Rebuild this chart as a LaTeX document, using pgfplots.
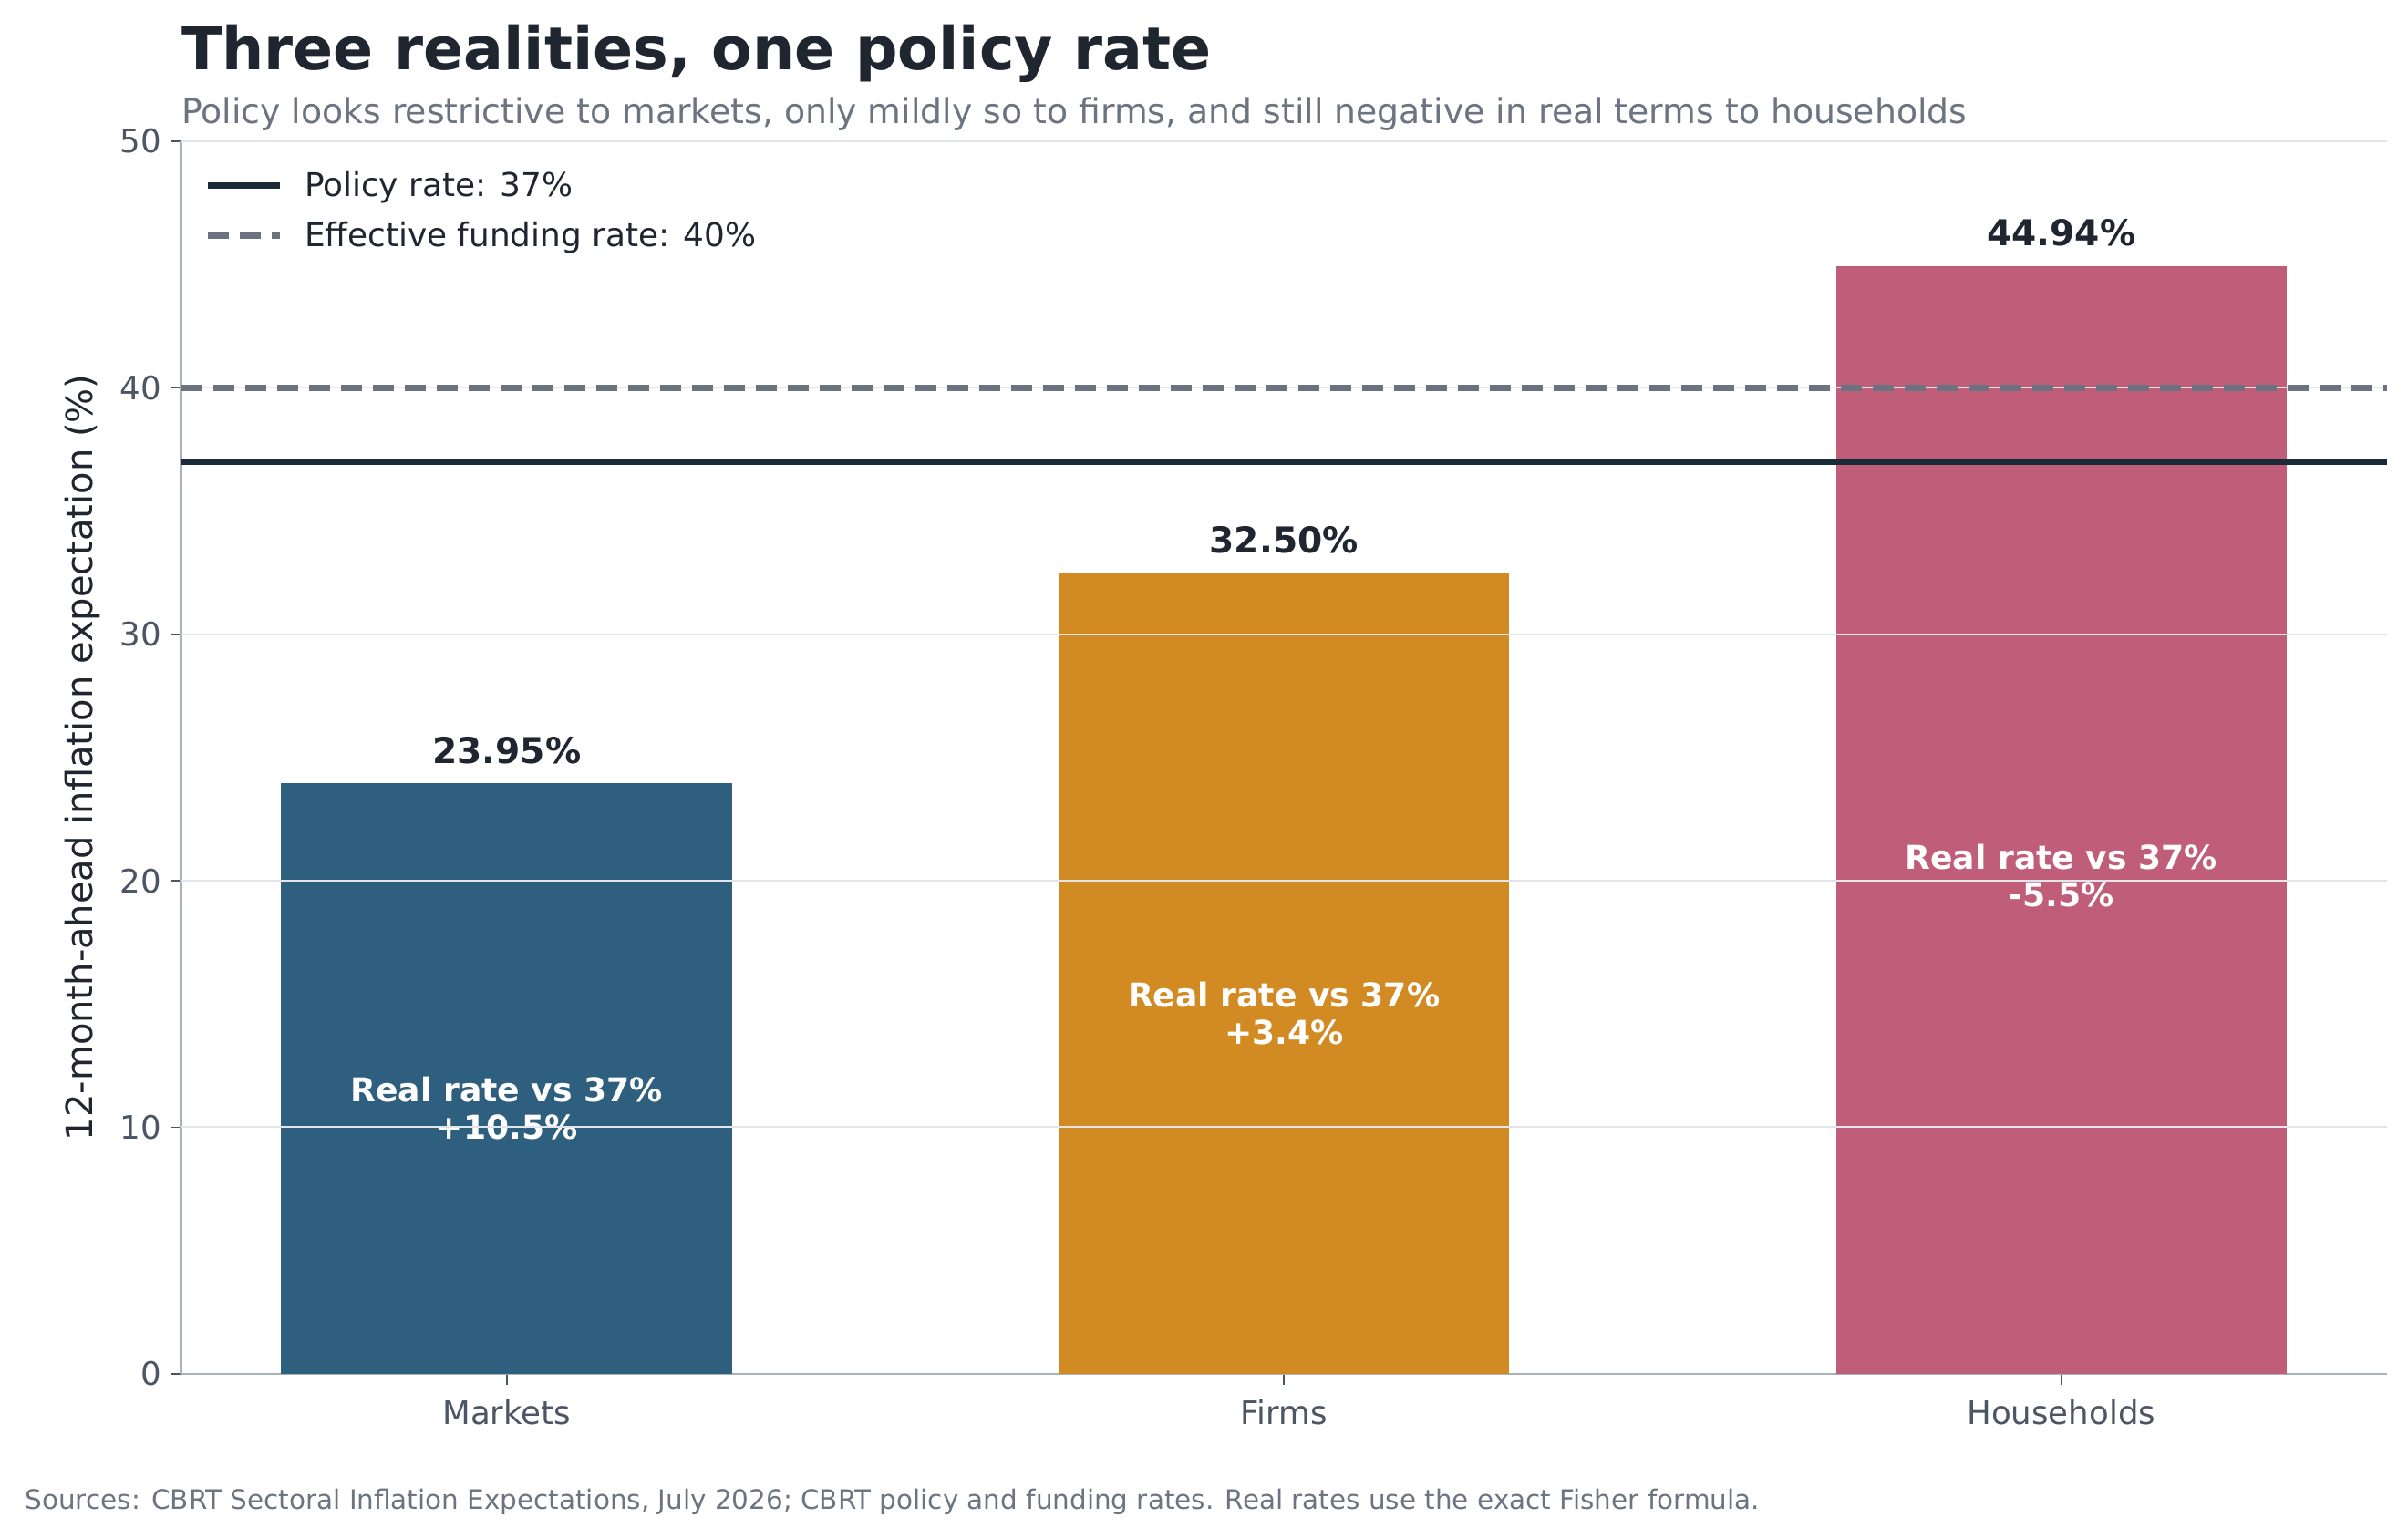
\documentclass[border=0pt]{standalone}
\usepackage{fontspec}
\setmainfont{DejaVu Sans}
\usepackage{pgfplots}
\pgfplotsset{compat=1.18}
\definecolor{textdark}{HTML}{1F2630}
\definecolor{subgray}{HTML}{6B7480}
\definecolor{tickgray}{HTML}{4B5563}
\definecolor{spine}{HTML}{A9B1B9}
\definecolor{gridc}{HTML}{E2E5E9}
\definecolor{policy}{HTML}{1B2A38}
\definecolor{funding}{HTML}{6B7280}
\definecolor{cmarkets}{HTML}{2E5F7F}
\definecolor{cfirms}{HTML}{D28A22}
\definecolor{chouse}{HTML}{C05D79}
\begin{document}
\begin{tikzpicture}
\path[use as bounding box] (0,0) rectangle (950.76pt,607.32pt);
\node[anchor=base west, inner sep=0pt, text=textdark, font=\fontsize{23.4}{28}\selectfont\bfseries] at (71.5pt,579.6pt) {Three realities, one policy rate};
\node[anchor=base west, inner sep=0pt, text=subgray, font=\fontsize{13.6}{16}\selectfont] at (71.5pt,558.7pt) {Policy looks restrictive to markets, only mildly so to firms, and still negative in real terms to households};
\node[anchor=base west, inner sep=0pt, text=subgray, font=\fontsize{10.6}{12}\selectfont] at (9.7pt,11.5pt) {Sources: CBRT Sectoral Inflation Expectations, July 2026; CBRT policy and funding rates. Real rates use the exact Fisher formula.};
\begin{axis}[
  at={(71.46pt,64.84pt)}, anchor=south west,
  scale only axis, width=871.0pt, height=486.72pt,
  xmin=-0.419, xmax=2.419, ymin=0, ymax=50,
  axis x line*=bottom, axis y line*=left,
  axis line style={draw=spine, line width=0.9pt, -},
  xtick={0,1,2}, xticklabels={Markets,Firms,Households},
  ytick={0,10,20,30,40,50},
  tick align=outside,
  major tick length=4.3pt,
  tick style={draw=tickgray, line width=0.7pt},
  ticklabel style={text=tickgray, font=\fontsize{12.8}{15}\selectfont},
  xticklabel style={yshift=-2.4pt},
  /pgf/number format/assume math mode=true,
  ylabel={12-month-ahead inflation expectation (\%)},
  every axis y label/.style={at={(axis description cs:0,0.5)}, xshift=-39pt, rotate=90, anchor=center, text=textdark, font=\fontsize{14.4}{17}\selectfont},
  legend cell align=left,
  legend style={at={(axis description cs:0,1)}, anchor=north west, xshift=6pt, yshift=-7.8pt, draw=none, fill=none, text=textdark, font=\fontsize{12.9}{15}\selectfont, row sep=4.5pt,
    nodes={inner xsep=8.5pt}},
  legend image code/.code={\draw[#1] (-5.5pt,0pt) -- (23.1pt,0pt);},
  clip=false,
]
\addplot[ybar, bar width=0.58, bar shift=0pt, fill=cmarkets, draw=none, forget plot] coordinates {(0,23.95)};
\addplot[ybar, bar width=0.58, bar shift=0pt, fill=cfirms, draw=none, forget plot] coordinates {(1,32.50)};
\addplot[ybar, bar width=0.58, bar shift=0pt, fill=chouse, draw=none, forget plot] coordinates {(2,44.94)};
\node[align=center, text=white, font=\fontsize{13}{14.8}\selectfont\bfseries] at (axis cs:0,10.78) {Real rate vs 37\%\\+10.5\%};
\node[align=center, text=white, font=\fontsize{13}{14.8}\selectfont\bfseries] at (axis cs:1,14.63) {Real rate vs 37\%\\+3.4\%};
\node[align=center, text=white, font=\fontsize{13}{14.8}\selectfont\bfseries] at (axis cs:2,20.22) {Real rate vs 37\%\\-5.5\%};
\draw[gridc, line width=0.72pt] (axis cs:-0.419,10) -- (axis cs:2.419,10);
\draw[gridc, line width=0.72pt] (axis cs:-0.419,20) -- (axis cs:2.419,20);
\draw[gridc, line width=0.72pt] (axis cs:-0.419,30) -- (axis cs:2.419,30);
\draw[gridc, line width=0.72pt] (axis cs:-0.419,40) -- (axis cs:2.419,40);
\draw[gridc, line width=0.72pt] (axis cs:-0.419,50) -- (axis cs:2.419,50);
\node[anchor=base, text=textdark, font=\fontsize{14.1}{17}\selectfont\bfseries] at (axis cs:0,23.95) [yshift=7.9pt] {23.95\%};
\node[anchor=base, text=textdark, font=\fontsize{14.1}{17}\selectfont\bfseries] at (axis cs:1,32.50) [yshift=7.9pt] {32.50\%};
\node[anchor=base, text=textdark, font=\fontsize{14.1}{17}\selectfont\bfseries] at (axis cs:2,44.94) [yshift=7.9pt] {44.94\%};
\addplot[policy, line width=2.5pt, no marks] coordinates {(-0.419,37) (2.419,37)};
\addlegendentry{Policy rate: 37\%}
\addplot[funding, line width=2.5pt, no marks, dash pattern=on 8.6pt off 4pt] coordinates {(-0.419,40) (2.419,40)};
\addlegendentry{Effective funding rate: 40\%}
\end{axis}
\end{tikzpicture}
\end{document}
